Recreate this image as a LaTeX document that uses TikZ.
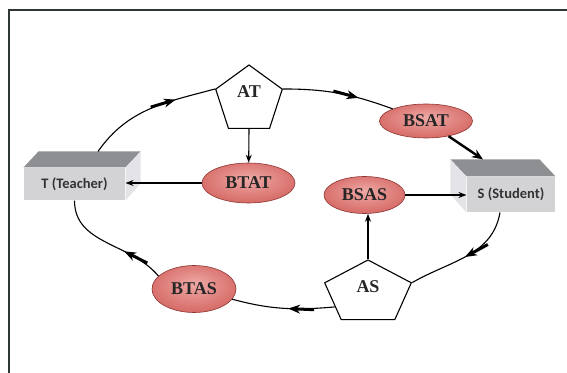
\documentclass[tikz,border=0pt]{standalone}
\usepackage{fontspec}
\setmainfont{Liberation Serif}
\newfontfamily\boxfont{Carlito}
\usetikzlibrary{positioning,shapes.geometric,arrows.meta,decorations.markings,calc}
\definecolor{rlight}{HTML}{EFA9A6}
\definecolor{rmid}{HTML}{D8706C}
\definecolor{rdark}{HTML}{C04C49}
\definecolor{redline}{HTML}{8E3431}
\definecolor{boxtop}{HTML}{8E8F93}
\definecolor{boxfront}{HTML}{D3D3D6}
\definecolor{boxside}{HTML}{E4E4E8}
\definecolor{frameline}{HTML}{2F3636}
\pgfdeclareradialshading{redglow}{\pgfpoint{0bp}{6bp}}{color(0bp)=(rlight); color(25bp)=(rmid); color(50bp)=(rdark)}
\tikzset{flow/.style={postaction=decorate,decoration={markings,mark=at position #1 with {\draw[line width=3pt] (-26pt,0) -- (-5pt,0); \arrow{Stealth[length=12pt,width=9pt]}}}}}

\begin{document}
\begin{tikzpicture}[x=1pt,y=1pt,line width=1.1pt,>={Stealth[length=8pt,width=6pt]}]
\tikzstyle{box} = [fill=boxfront,minimum width=101pt,minimum height=32pt,inner sep=0pt,font=\boxfont\bfseries\fontsize{14.5}{16}\selectfont,text=black!80]
\tikzstyle{oval} = [ellipse,draw=redline,line width=0.6pt,shading=redglow,inner sep=0pt,font=\bfseries\fontsize{18}{20}\selectfont,text=black!85]
\tikzstyle{pent} = [regular polygon,regular polygon sides=5,draw,fill=white,inner sep=0pt]
\tikzstyle{pentlabel} = [font=\bfseries\fontsize{18}{20}\selectfont,text=black!85]
\useasboundingbox (0,0) rectangle (567,372);
\draw[frameline,line width=2pt] (8.5,-5) -- (8.5,362) -- (575,362);

\node[box] (T) at (74.5,188) {T (Teacher)};
\fill[boxtop] (T.north west) -- ++(15,16) -- ($(T.north east)+(15,16)$) -- (T.north east) -- cycle;
\fill[boxside] (T.north east) -- ++(15,16) -- ++(0,-32) -- (T.south east) -- cycle;
\node[box,minimum width=88pt,minimum height=35pt] (S) at (511,177.5) {S (Student)};
\fill[boxtop] (S.north west) -- ++(-16,17) -- ($(S.north east)+(-16,17)$) -- (S.north east) -- cycle;
\fill[boxside] (S.north west) -- ++(-16,17) -- ++(0,-35) -- (S.south west) -- cycle;

\node[pent,minimum size=70pt,label={[pentlabel,yshift=8pt]center:AT}] (AT) at (249,272) {};
\begin{scope}[shift={(368,79)}]
\node[pent,minimum size=66pt,xscale=1.38,label={[pentlabel,yshift=6pt]center:AS}] (AS) at (0,0) {};
\end{scope}

\node[oval,minimum width=93pt,minimum height=34pt] (BSAT) at (426,251) {BSAT};
\node[oval,minimum width=93pt,minimum height=40pt] (BTAT) at (248.5,189) {BTAT};
\node[oval,minimum width=81pt,minimum height=37pt] (BSAS) at (364.5,177) {BSAS};
\node[oval,minimum width=84pt,minimum height=47pt] (BTAS) at (194,83) {BTAS};

\draw[flow=0.7] ($(T.north)+(23.5,16)$) to[out=55,in=195] (AT.corner 2);
\draw[flow=0.68] (AT.corner 5) to[out=0,in=160] (BSAT);
\draw[-{Stealth[length=11pt,width=9pt]},line width=2.4pt] (BSAT) -- ($(S.north)+(-28,17)$);
\draw[flow=0.5] ($(S.south)+(-11,0)$) to[out=-100,in=30] (AS.corner 5);
\draw[flow=0.45] (AS.210) to[out=185,in=-15] (BTAS);
\draw[flow=0.36] (BTAS.160) to[out=130,in=-90] (T.south);

\draw[->] (AT.south) -- (BTAT);
\draw[->] (BTAT.west) -- (BTAT.west -| T.east);
\draw[->] (AS.north) -- (AS.north |- BSAS.south);
\draw[->] (BSAS.east) -- (BSAS.east -| S.west);
\end{tikzpicture}
\end{document}
